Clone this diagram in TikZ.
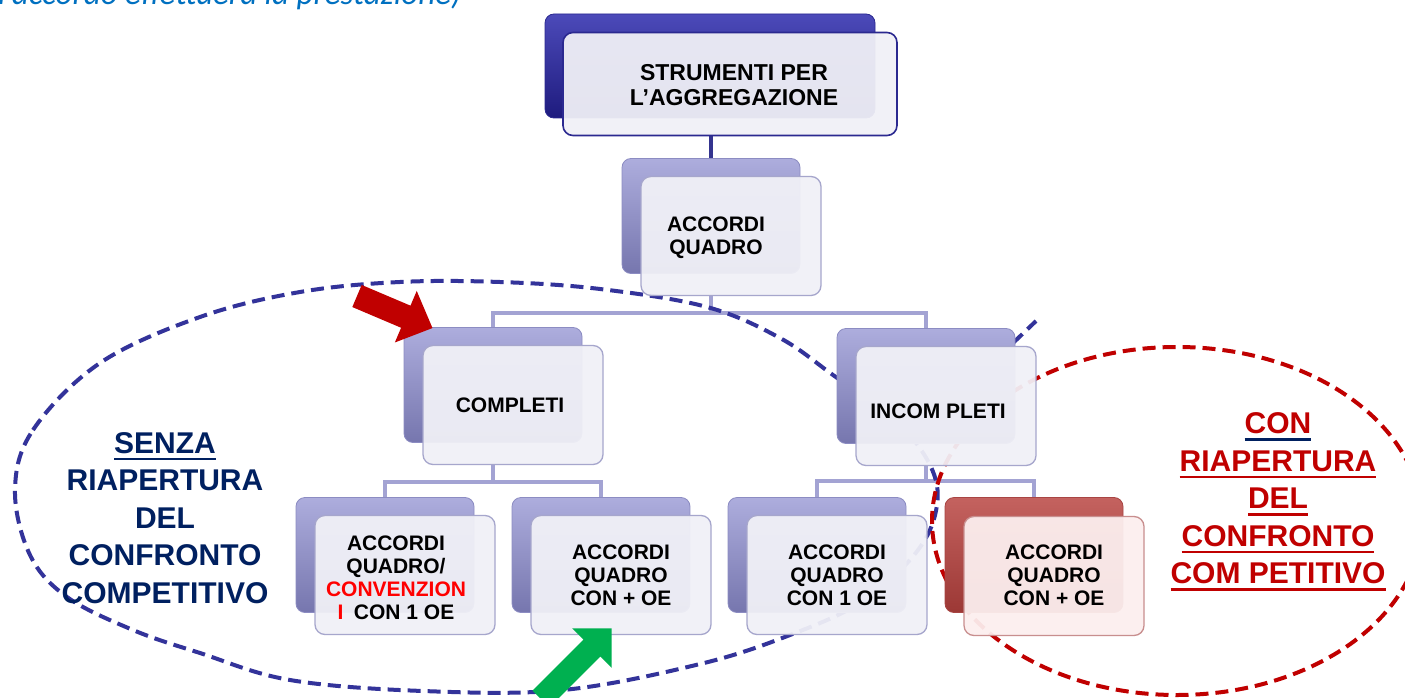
\documentclass[tikz,border=0pt]{standalone}
\usepackage{fontspec}
\setmainfont{Liberation Sans}
\newfontfamily\heavy{Liberation Sans Bold}
\newfontfamily\calfont{Carlito Italic}
\usepackage{tikz}
\usetikzlibrary{positioning, backgrounds}

\definecolor{lavtop}{HTML}{ADADDD}
\definecolor{lavbot}{HTML}{7676AE}
\definecolor{lavedge}{HTML}{8C8CC2}
\definecolor{frontfill}{HTML}{F1F1F7}
\definecolor{frontedge}{HTML}{A6A6CC}
\definecolor{navytop}{HTML}{4C4AB9}
\definecolor{navybot}{HTML}{1E1B7E}
\definecolor{navyedge}{HTML}{2B2990}
\definecolor{redtop}{HTML}{C4625F}
\definecolor{redbot}{HTML}{9C3835}
\definecolor{rededge}{HTML}{A84543}
\definecolor{redfill}{HTML}{FCEFEF}
\definecolor{redfrontedge}{HTML}{C88E8E}
\definecolor{linkcol}{HTML}{A3A3D3}
\definecolor{toplinkcol}{HTML}{34348F}
\definecolor{loopblue}{HTML}{33339A}
\definecolor{loopred}{HTML}{C00000}
\definecolor{conred}{HTML}{C00000}
\definecolor{convred}{HTML}{FF0000}
\definecolor{sidenavy}{HTML}{002060}
\definecolor{arrowred}{HTML}{C00000}
\definecolor{arrowgreen}{HTML}{00B050}
\definecolor{topblue}{HTML}{0070C0}

\newsavebox\ulbox
\newcommand{\ulword}[2]{\sbox\ulbox{#2}\leavevmode\rlap{\color{#1}\rule[-7pt]{\wd\ulbox}{2.6pt}}\usebox\ulbox}

\begin{document}
\begin{tikzpicture}[x=1pt, y=-1pt,
  back node/.style={rounded corners=9pt, minimum width=178pt, minimum height=115pt,
    top color=lavtop, bottom color=lavbot, draw=lavedge, line width=0.8pt},
  front node/.style={rounded corners=10pt, minimum width=180pt, minimum height=119pt,
    draw=frontedge, line width=1.3pt, fill=frontfill, fill opacity=0.94},
  box text/.style={font=\heavy\fontsize{21}{23}\selectfont, align=center},
  side text/.style={font=\heavy\fontsize{30}{37.5}\selectfont, align=center},
  link line/.style={draw=linkcol, line width=4pt},
  loop line/.style={line width=4pt, dash pattern=on 13pt off 7pt}]
  \useasboundingbox (0,0) rectangle (1405,698);
  \clip (0,0) rectangle (1405,698);

  % slide text cut at the top
  \node[font=\calfont\fontsize{33}{36}\selectfont, text=topblue,
    anchor=base west, inner sep=0] (note) at (-2,5) {l’accordo effettuerà la prestazione)};

  % boxes
  \node[back node, minimum width=330pt, minimum height=104pt,
    top color=navytop, bottom color=navybot, draw=navyedge] (topback) at (710,66) {};
  \node[front node, minimum width=334pt, minimum height=103pt,
    draw=navyedge, line width=1.6pt] (topfront) at (730,84) {};

  \foreach \n/\x/\y in {aq/731/236, cp/513/405, ic/946/406,
                        b1/405/575, b2/621/575, b3/837/575} {
    \node[back node] (\n back) at (\x-20,\y-20) {};
    \node[front node] (\n front) at (\x,\y) {};
  }
  \node[back node, top color=redtop, bottom color=redbot, draw=rededge] (b4back) at (1034,555) {};
  \node[front node, fill=redfill, draw=redfrontedge] (b4front) at (1054,576) {};

  \node[box text, font=\heavy\fontsize{23}{25}\selectfont] (toptext) at (734,85) {STRUMENTI PER\\L’AGGREGAZIONE};
  \node[box text] (aqtext) at (716,238) {ACCORDI\\QUADRO};
  \node[box text] (cptext) at (510,405) {COMPLETI};
  \node[box text] (ictext) at (938,411) {INCOM PLETI};
  \node[box text] (b1text) at (396,578) {ACCORDI\\QUADRO/\\\textcolor{convred}{CONVENZION}\\\textcolor{convred}{I}\hspace{0.5em}CON 1 OE};
  \node[box text] (b2text) at (621,575) {ACCORDI\\QUADRO\\CON + OE};
  \node[box text] (b3text) at (837,575) {ACCORDI\\QUADRO\\CON 1 OE};
  \node[box text] (b4text) at (1054,575) {ACCORDI\\QUADRO\\CON + OE};

  % side labels
  \node[side text, text=sidenavy] (senza) at (165,518)
    {\ulword{sidenavy}{SENZA}\\RIAPERTURA\\DEL\\CONFRONTO\\COMPETITIVO};
  \node[side text, text=conred] (con) at (1278,502)
    {\ulword{sidenavy}{CON}\\\ulword{conred}{RIAPERTURA}\\\ulword{conred}{DEL}\\\ulword{conred}{CONFRONTO}\\\ulword{conred}{COM PETITIVO}};

  % block arrows
  \begin{scope}[shift={(357,296)}, rotate=-23]
    \fill[arrowred] (0,-12) -- (53,-12) -- (53,-28) -- (82,0) -- (53,28) -- (53,12) -- (0,12) -- cycle;
  \end{scope}
  \begin{scope}[shift={(541,699)}, rotate=45]
    \fill[arrowgreen] (0,-12) -- (72,-12) -- (72,-28) -- (100,0) -- (72,28) -- (72,12) -- (0,12) -- cycle;
  \end{scope}

  \begin{scope}[on background layer]
    \fill[white] (0,0) rectangle (1405,698);
    \draw[link line, draw=toplinkcol] (aqback.north |- topfront.south) -- (aqback.north);
    \coordinate (j1) at (711,313);
    \draw[link line] (aqback.south |- aqfront.south) -- (j1) -| (cpback.north);
    \draw[link line] (j1) -| (icback.north);
    \coordinate (j2) at (493,482);
    \draw[link line] (cpback.south |- cpfront.south) -- (j2) -| (b1back.north);
    \draw[link line] (j2) -| (b2back.north);
    \coordinate (j3) at (926,481);
    \draw[link line] (icback.south |- icfront.south) -- (j3) -| (b3back.north);
    \draw[link line] (j3) -| (b4back.north);

    % dashed groups
    \draw[loop line, draw=loopblue] plot[smooth cycle, tension=0.6] coordinates {
      (15,490) (33,430) (100,363) (200,317) (300,292) (400,282) (500,282)
      (600,289) (707,307) (780,338) (833,375) (895,420) (930,465) (937,505)
      (918,550) (865,600) (790,635) (700,664) (563,690) (423,691) (290,680)
      (200,653) (133,630) (67,597) (30,555)};
    \draw[loop line, draw=loopblue] (1013,343) -- (1036,321);
    \draw[loop line, draw=loopred] (1177,521) ellipse [x radius=245, y radius=174];
  \end{scope}
\end{tikzpicture}
\end{document}
